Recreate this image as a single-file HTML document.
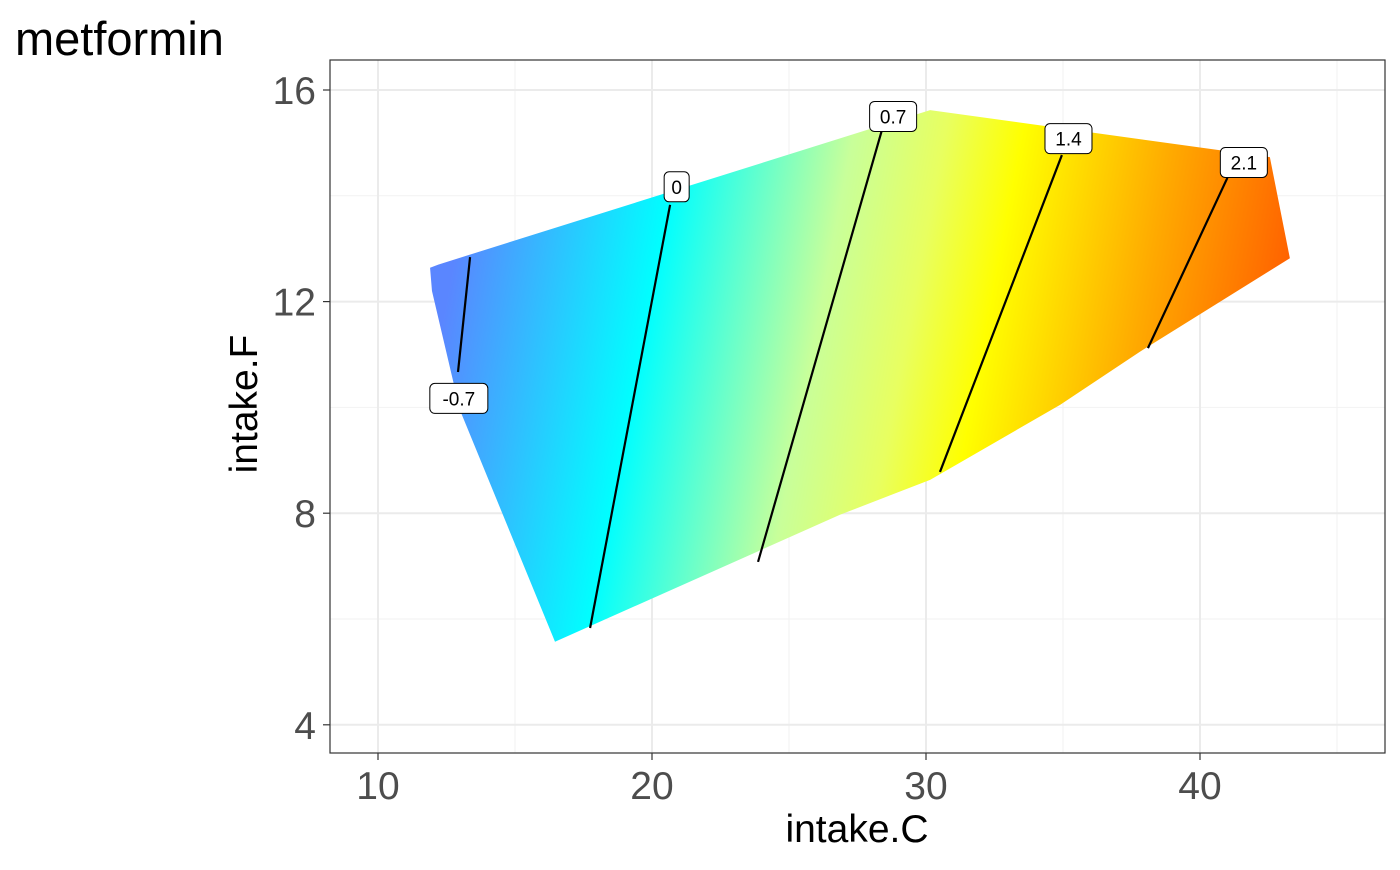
<!DOCTYPE html>
<html><head><meta charset="utf-8"><style>
body{margin:0;background:#fff}
svg text{font-family:"Liberation Sans",Arial,sans-serif}
</style></head><body>
<svg width="1400" height="865" viewBox="0 0 1400 865" id="chart">
<defs>
<linearGradient id="grad" gradientUnits="userSpaceOnUse" x1="400" y1="400" x2="1285" y2="567">
<stop offset="0.03" stop-color="#5a86ff"/>
<stop offset="0.253" stop-color="#00ffff"/>
<stop offset="0.44" stop-color="#c8ff9a"/>
<stop offset="0.54" stop-color="#e8ff60"/>
<stop offset="0.625" stop-color="#ffff00"/>
<stop offset="0.79" stop-color="#ffaa00"/>
<stop offset="0.97" stop-color="#ff5500"/>
</linearGradient>
<clipPath id="panelclip"><rect x="330" y="60" width="1055" height="693"/></clipPath>
</defs>
<text x="15" y="55" font-size="47" fill="#000">metformin</text>
<g id="grid"></g>
<g id="fill" clip-path="url(#panelclip)"></g>
<g id="contours"></g>
<rect x="330" y="60" width="1055" height="693" fill="none" stroke="#333" stroke-width="1.2"/>
<g id="ticks"></g>
<text x="857" y="842" font-size="39" text-anchor="middle" fill="#000">intake.C</text>
<text x="0" y="0" font-size="39" text-anchor="middle" fill="#000" transform="translate(257,404) rotate(-90)">intake.F</text>
</svg>
<script>
const xMajor=[10,20,30,40];
const xMinor=[15,25,35,45];
const yMajor=[4,8,12,16];
const yMinor=[6,10,14];
const regionX=[11.9,12.2,30.15,42.55,43.28,37.8,34.9,30.15,26.86,16.46,12.99,11.97];
const regionY=[12.64,12.7,15.62,14.73,12.82,11.05,10.05,8.63,7.97,5.57,9.95,12.2];
const levels=["-0.7","0","0.7","1.4","2.1"];
const lineX0=[12.92,17.74,23.87,30.51,38.1];
const lineY0=[10.67,5.83,7.08,8.78,11.12];
const lineX1=[13.36,20.66,28.39,34.96,41.0];
const lineY1=[12.84,13.83,15.24,14.77,14.34];
const labelX=[12.95,20.9,28.8,35.2,41.6];
const labelY=[10.17,14.17,15.5,15.08,14.63];
const X=v=>378+(v-10)*27.4;
const Y=v=>90+(16-v)*52.9;
const NS="http://www.w3.org/2000/svg";
function mk(t,a,p){const e=document.createElementNS(NS,t);for(const k in a)e.setAttribute(k,a[k]);p.appendChild(e);return e;}
const grid=document.getElementById('grid'),ticks=document.getElementById('ticks');
mk('rect',{x:330,y:60,width:1055,height:693,fill:'#fff'},grid);
xMinor.forEach(v=>{const l=mk('line',{x1:X(v),x2:X(v),y1:60,y2:753,stroke:'#f2f2f2','stroke-width':1},grid);

});
yMinor.forEach(v=>{const l=mk('line',{x1:330,x2:1385,y1:Y(v),y2:Y(v),stroke:'#f2f2f2','stroke-width':1},grid);

});
xMajor.forEach(v=>{const l=mk('line',{x1:X(v),x2:X(v),y1:60,y2:753,stroke:'#ebebeb','stroke-width':2},grid);


const t=mk('line',{x1:X(v),x2:X(v),y1:753,y2:760,stroke:'#333','stroke-width':1.2},ticks);


const tx=mk('text',{x:X(v),y:799,'font-size':39,'text-anchor':'middle',fill:'#4d4d4d'},ticks);tx.textContent=v;

});
yMajor.forEach(v=>{const l=mk('line',{x1:330,x2:1385,y1:Y(v),y2:Y(v),stroke:'#ebebeb','stroke-width':2},grid);


const t=mk('line',{x1:323,x2:330,y1:Y(v),y2:Y(v),stroke:'#333','stroke-width':1.2},ticks);


const tx=mk('text',{x:316,y:Y(v)+14,'font-size':39,'text-anchor':'end',fill:'#4d4d4d'},ticks);tx.textContent=v;

});
const pts=regionX.map((x,i)=>X(x)+','+Y(regionY[i])).join(' ');
const poly=mk('polygon',{points:pts,fill:'url(#grad)'},document.getElementById('fill'));


const cg=document.getElementById('contours');
levels.forEach((lv,i)=>{
const l=mk('line',{x1:X(lineX0[i]),y1:Y(lineY0[i]),x2:X(lineX1[i]),y2:Y(lineY1[i]),stroke:'#000','stroke-width':2.2},cg);


const w=lv.length*11+14,cx=X(labelX[i]),cy=Y(labelY[i]);
const r=mk('rect',{x:cx-w/2,y:cy-15,width:w,height:30,rx:5,fill:'#fff',stroke:'#000','stroke-width':1},cg);


const t=mk('text',{x:cx,y:cy+7,'font-size':19,'text-anchor':'middle',fill:'#000'},cg);t.textContent=lv;

});
</script>
</body></html>
